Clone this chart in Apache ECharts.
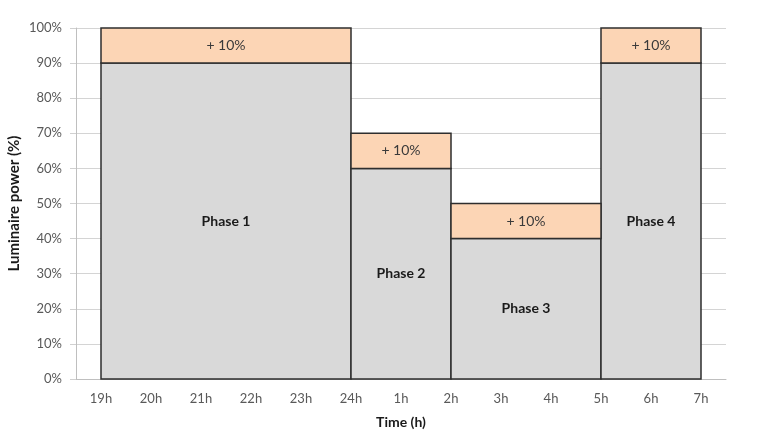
<!DOCTYPE html>
<html><head><meta charset="utf-8">
<script src="https://cdn.jsdelivr.net/npm/echarts@6/dist/echarts.min.js"></script>
<style>html,body{margin:0;padding:0;background:#fff}#c{width:759px;height:434px}</style>
</head><body><div id="c"></div>
<script>
var hours = ['19h','20h','21h','22h','23h','24h','1h','2h','3h','4h','5h','6h','7h'];
var phaseNames = ['Phase 1','Phase 2','Phase 3','Phase 4'];
var phaseStart = [0, 5, 7, 10];
var phaseEnd = [5, 7, 10, 12];
var basePower = [90, 60, 40, 90];
var extraPower = [10, 10, 10, 10];
var extraLabels = ['+ 10%','+ 10%','+ 10%','+ 10%'];

var FONT = 'Lato';
var baseData = phaseNames.map(function(n,i){return [phaseStart[i], phaseEnd[i], 0, basePower[i], n];});
var topData = phaseNames.map(function(n,i){return [phaseStart[i], phaseEnd[i], basePower[i], basePower[i]+extraPower[i], extraLabels[i]];});

function makeRender(fill, bold){
  return function(params, api){
    var p0 = api.coord([api.value(0), api.value(2)]);
    var p1 = api.coord([api.value(1), api.value(3)]);
    var x = p0[0], y = p1[1], w = p1[0]-p0[0], h = p0[1]-p1[1];
    var label = bold ? baseData[params.dataIndex][4] : topData[params.dataIndex][4];
    return {type:'group', children:[
      {type:'rect', shape:{x:x,y:y,width:w,height:h}, style:{fill:fill, stroke:'#2e2e2e', lineWidth:1.5}},
      {type:'text', x:x+w/2, y:y+h/2, style:{text:label, fill:bold?'#1a1a1a':'#3a3a3a', font:(bold?'bold ':'')+'14px '+FONT, align:'center', verticalAlign:'middle'}}
    ]};
  };
}

var chart = echarts.init(document.getElementById('c'));
chart.setOption({
  animation:false,
  grid:{left:76, right:33, top:28, bottom:55, containLabel:false, outerBoundsMode:'none'},
  xAxis:{type:'category', data:hours, boundaryGap:true,
    name:'Time (h)', nameLocation:'middle', nameGap:36,
    nameTextStyle:{fontFamily:FONT, fontWeight:'bold', fontSize:14, color:'#1a1a1a'},
    axisLine:{lineStyle:{color:'#bfbfbf', width:1}},
    axisTick:{alignWithLabel:true, length:5, lineStyle:{color:'#bfbfbf'}},
    axisLabel:{fontFamily:FONT, fontSize:13, color:'#595959', margin:13},
    splitLine:{show:false}},
  yAxis:{type:'value', min:0, max:100, interval:10,
    name:'Luminaire power (%)', nameLocation:'middle', nameGap:54, nameMoveOverlap:false,
    nameTextStyle:{fontFamily:FONT, fontWeight:'bold', fontSize:15, color:'#1a1a1a'},
    axisLine:{show:true, lineStyle:{color:'#bfbfbf'}},
    axisTick:{show:true, length:6, lineStyle:{color:'#d0d0d0'}},
    axisLabel:{fontFamily:FONT, fontSize:13, color:'#595959', margin:14, formatter:'{value}%'},
    splitLine:{lineStyle:{color:'#d4d4d4'}}},
  series:[
    {type:'custom', renderItem:makeRender('#d9d9d9', true), data:baseData, encode:{x:[0,1], y:[2,3]}, z:3},
    {type:'custom', renderItem:makeRender('#fcd5b5', false), data:topData, encode:{x:[0,1], y:[2,3]}, z:3}
  ]
});
</script></body></html>
